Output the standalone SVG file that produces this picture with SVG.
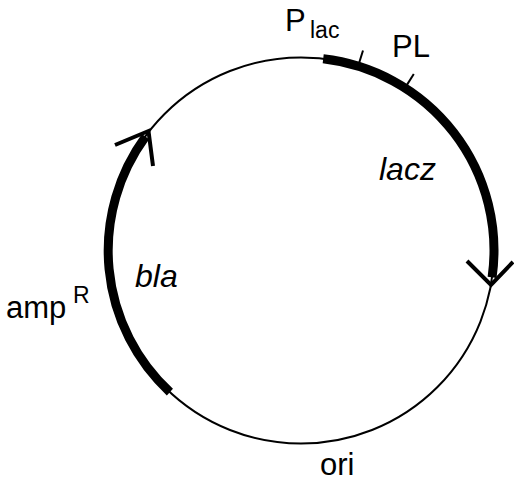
<svg xmlns="http://www.w3.org/2000/svg" width="514" height="483" viewBox="0 0 514 483">
<style>
.thin{fill:none;stroke:#000;stroke-width:2}
.thick{fill:none;stroke:#000;stroke-width:9;stroke-linecap:butt}
.tick{fill:none;stroke:#000;stroke-width:2}
.head{fill:none;stroke:#000;stroke-width:4;stroke-linecap:butt;stroke-linejoin:miter}
text{font-family:"Liberation Sans",Arial,sans-serif;fill:#000}
.lbl{font-size:31px}
.it{font-size:32px;font-style:italic}
.sub{font-size:23px}
</style>
<rect width="514" height="483" fill="#fff"/>
<g id="connectors">
<circle id="plasmid" class="thin" cx="301" cy="250.5" r="193"/>
</g>
<g id="lacz">
<path class="thick" d="M323.2,58.8 A193,193 0 0 1 492.1,277.4"/>
<polyline class="head" points="467,261 491,285 513,262"/>
<text class="it" x="379" y="180">lacz</text>
</g>
<g id="plac">
<line class="tick" x1="359" y1="63.3" x2="363" y2="50.5"/>
<text class="lbl" x="285" y="31">P</text>
<text class="sub" x="310" y="38">lac</text>
</g>
<g id="pl">
<line class="tick" x1="406.6" y1="85.4" x2="413.8" y2="74"/>
<text class="lbl" x="392" y="57">PL</text>
</g>
<g id="bla">
<path class="thick" d="M169.9,392.1 A193,193 0 0 1 145.5,136.6"/>
<polyline class="head" points="115,145 148.5,131 153,166"/>
<text class="it" x="135" y="287">bla</text>
</g>
<g id="ampR">
<text class="lbl" x="6" y="318">amp</text>
<text class="sub" x="73" y="303">R</text>
</g>
<g id="ori">
<text class="lbl" x="320" y="475">ori</text>
</g>
</svg>
